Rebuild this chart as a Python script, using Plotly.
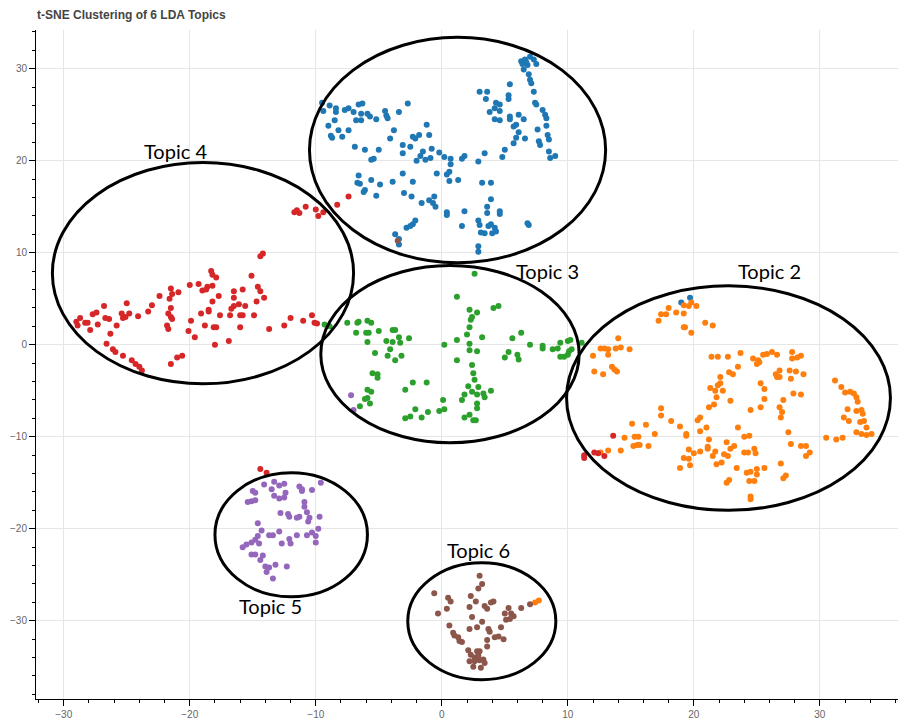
import plotly.graph_objects as go

# ---------------- data ----------------
topic1_x = [-9.5, -8.9, -9.4, -8.4, -8.4, -7.7, -7.4, -7.0, -6.6, -6.3, -6.4, -5.9, -5.7, -5.2, -4.5, -4.4, -4.3, -3.4, -2.7,
            -8.5, -9.0, -8.2, -7.4, -8.8, -8.7, -7.9, -6.8, -6.4, -6.9, -6.1, -5.0, -5.6, -5.4, -4.1, -3.8, -3.1, -3.1, -2.5,
            -2.3, -2.1, -1.8, -1.2, -1.0, -2.0, -1.7, -1.5, -1.3, -0.8, -0.9, -0.2, 0.2, 0.7, 0.7, 1.6, 1.8, 2.9, 3.4, 4.8, 5.0,
            -6.6, -6.7, -6.5, -5.6, -4.9, -6.1, -6.2, -5.2, -3.9, -3.1, -2.3, -3.0, -2.4, -1.6, -1.0, -0.6, -0.7, -0.5, -0.4,
            0.4, 0.6, 0.6, 1.3, 0.4, 0.4, 1.8, 3.2, 3.9, 3.9, 3.6, 3.6, 4.6, 4.6, 2.9, 3.0, 3.1, 3.4, 3.7, 3.9, 4.2, 4.0, 4.3,
            1.6, -2.1, -2.3, -2.8, -2.5, -3.7, -3.4, -3.4, 2.9, 2.9, 6.8, 6.9,
            3.0, 3.6, 3.5, 4.3, 4.6, 4.2, 4.6, 3.8, 4.2, 4.6, 5.4, 5.3, 5.3, 5.4, 5.4, 6.1, 6.5, 5.9, 5.7, 6.1, 5.9, 5.7, 6.6,
            6.3, 6.6, 7.0, 7.3, 7.5, 6.8, 6.5, 6.9, 7.0, 7.1, 7.3, 7.4, 7.5, 8.0, 8.2, 8.3, 8.3, 7.6, 8.4, 8.5, 7.7, 7.8, 8.5,
            8.6, 9.0, 6.7, 6.4,
            19.0, 19.7]
topic1_y = [26.3, 26.0, 25.4, 25.7, 25.3, 25.5, 25.7, 25.3, 26.1, 26.2, 25.1, 25.1, 24.8, 24.5, 25.4, 24.9, 24.6, 25.3, 26.2,
            24.4, 23.8, 23.3, 23.3, 22.7, 22.5, 22.6, 24.4, 24.4, 21.5, 21.2, 21.2, 20.1, 20.2, 22.4, 23.3, 21.7, 20.8, 21.5,
            22.6, 22.4, 22.8, 23.9, 22.8, 20.0, 20.5, 21.0, 20.1, 21.3, 20.3, 20.9, 20.4, 20.2, 19.6, 20.2, 20.5, 19.9, 20.8, 20.4, 21.2,
            18.4, 17.6, 17.5, 17.9, 17.4, 16.8, 16.6, 16.2, 17.7, 18.6, 17.7, 16.5, 16.1, 15.4, 15.7, 16.1, 15.4, 15.0, 18.6,
            18.5, 18.8, 17.8, 17.9, 14.4, 14.1, 14.5, 17.6, 17.6, 15.8, 15.0, 14.3, 14.5, 14.2, 13.5, 13.0, 12.2, 12.1, 12.9, 13.1, 12.7, 12.1, 12.3,
            12.9, 13.5, 13.1, 12.7, 12.9, 12.0, 11.5, 10.9, 10.7, 10.1, 13.2, 13.0,
            27.5, 27.5, 26.7, 26.3, 26.1, 25.7, 25.4, 25.3, 24.5, 24.4, 28.3, 27.1, 26.7, 24.8, 24.5, 25.0, 24.5, 23.9, 23.7, 23.1, 22.5, 21.9, 22.4,
            30.8, 31.0, 31.3, 31.0, 30.5, 30.4, 29.9, 29.4, 28.8, 28.4, 27.5, 26.3, 26.1, 25.5, 25.0, 24.6, 23.8, 23.4, 22.8, 22.3, 22.1, 21.7, 21.0,
            20.3, 20.5, 30.7, 30.5,
            4.6, 5.1]

topic2_x = [18.0, 17.4, 17.8, 17.2, 18.6, 19.2, 19.2, 19.6, 19.8, 20.2, 19.2, 19.3, 19.8, 20.9, 21.5,
            14.0, 13.8, 14.2, 13.2, 12.6, 12.9, 13.2, 12.0, 14.9, 13.5, 13.7, 13.9, 12.1, 12.8,
            21.4, 21.9, 22.7, 23.7, 23.5, 22.8, 23.1, 22.1, 22.1, 21.9, 21.3, 22.3, 21.7, 21.8, 22.9, 21.6, 21.2,
            24.7, 25.1, 25.2, 25.0, 25.5, 25.8, 26.2, 26.6, 27.8, 27.8, 28.2, 28.5, 26.5, 26.8, 26.6, 26.8, 27.6, 28.1, 28.7, 27.7,
            25.3, 25.6, 25.6, 27.1, 26.8, 27.0, 26.9, 27.9, 28.5, 25.3, 24.5,
            31.2, 31.7, 32.0, 32.4, 32.7, 32.9, 33.0, 32.2, 32.9, 33.3, 33.4, 31.9, 32.3, 33.5, 33.2, 33.7, 32.9, 33.3, 33.7, 34.1,
            30.5, 31.3, 31.8,
            27.5, 27.7, 28.5, 28.9, 29.2, 28.9,
            17.4, 17.4, 18.2, 18.9, 19.4, 19.4, 20.5, 20.3, 21.0, 20.5, 21.2, 23.5, 24.0, 24.4, 22.6, 23.2, 22.9, 21.1, 21.1, 21.7,
            21.5, 22.4, 22.7, 24.0, 24.3, 24.8, 24.9, 19.6, 20.0, 20.5, 19.2, 19.6, 19.7, 18.9, 21.8, 22.2, 23.4, 24.2, 24.5, 25.0,
            25.6, 25.0, 24.4, 24.8, 22.8, 22.6, 24.5, 24.5, 26.9, 27.3, 27.1,
            15.1, 16.2, 16.9, 15.3, 15.6, 14.5, 15.2, 15.5, 15.7, 16.4, 14.2, 13.2, 12.6,
            7.4, 7.7]
topic2_y = [4.0, 3.3, 3.3, 2.6, 3.5, 3.4, 4.3, 4.2, 4.6, 4.2, 1.9, 1.9, 1.3, 2.4, 2.1,
            0.7, -0.4, -0.3, -0.5, -0.4, -0.4, -1.1, -1.2, -0.5, -2.4, -2.7, -2.9, -2.9, -3.2,
            -1.3, -1.3, -1.3, -0.9, -2.4, -3.0, -3.2, -3.5, -4.2, -4.4, -4.7, -5.0, -5.0, -5.7, -6.1, -6.5, -6.8,
            -1.5, -1.7, -1.9, -2.1, -1.1, -1.0, -0.8, -1.1, -0.8, -1.5, -1.4, -1.2, -3.2, -2.8, -3.5, -3.5, -2.8, -2.9, -3.2, -3.7,
            -4.2, -4.8, -5.9, -6.0, -6.8, -7.3, -7.9, -5.3, -5.4, -6.8, -7.1,
            -3.9, -4.6, -5.2, -5.1, -5.3, -5.7, -6.2, -7.0, -7.2, -7.1, -7.5, -7.9, -8.3, -8.3, -8.4, -9.0, -9.5, -9.7, -9.8, -9.7,
            -10.1, -10.3, -10.1,
            -9.5, -10.8, -11.0, -11.0, -11.7, -12.1,
            -6.9, -7.7, -8.3, -8.9, -9.7, -9.9, -7.9, -8.2, -9.0, -9.4, -10.3, -9.0, -10.0, -9.9, -10.6, -11.0, -11.3, -11.1, -11.3, -11.6,
            -12.1, -11.9, -12.1, -11.7, -11.7, -11.3, -11.8, -11.4, -11.8, -11.6, -12.3, -12.4, -13.1, -13.4, -13.0, -12.8, -13.4, -13.9, -13.8, -13.5,
            -13.4, -14.1, -14.8, -14.8, -14.7, -15.0, -16.5, -16.8, -12.9, -14.2, -14.5,
            -8.6, -8.7, -9.7, -10.0, -10.0, -10.1, -11.0, -10.9, -10.9, -11.0, -11.5, -11.5, -11.7,
            -28.0, -27.8]

topic3_x = [2.6, 1.2, 2.2, 2.8, 2.4, 2.3, 4.1, 4.5, 2.2, 2.0, 1.2, 3.2, 2.2, 2.2, 2.8, 0.2, 1.2, 2.4, 2.5, 2.6, 2.1, 2.9,
            2.4, 1.8, 2.8, 3.3, 3.9, 3.4, 2.8, 1.6, 2.8, 2.2, 1.8, 2.5, 2.7, 0.1, 0.2, -0.2, -1.1, -1.6, -2.1, -2.5, -2.9,
            -2.9, -2.3, -1.2,
            -7.5, -6.7, -6.6, -5.9, -5.6, -6.8, -6.0, -5.8, -5.0, -3.9, -3.7, -3.4, -2.6, -4.4, -3.9, -3.3, -5.9, -4.1, -5.3,
            -4.3, -3.2, -3.7, -5.5, -5.1, -5.1, -5.9, -5.6, -5.9, -6.1, -5.7, -6.5,
            5.6, 6.3, 7.0, 8.0, 8.0, 8.8, 9.2, 9.4, 10.0, 10.2, 11.1, 5.3, 5.0, 6.0, 6.1, 9.4, 9.7, 10.0, 10.1, 10.3,
            -9.3, -8.9]
topic3_y = [7.7, 5.2, 3.8, 3.5, 3.0, 2.7, 4.0, 4.2, 1.9, 1.1, 0.5, 0.8, 0.1, -0.6, -0.7, 0.0, -1.7, -2.2, -3.1, -3.8, -4.5, -4.6,
            -5.1, -5.4, -5.4, -5.3, -5.0, -5.7, -6.4, -6.0, -6.9, -7.6, -7.9, -8.2, -8.2, -6.0, -7.0, -7.2, -7.3, -7.9, -7.0, -7.8, -8.0,
            -4.9, -4.1, -4.1,
            2.4, 2.4, 2.5, 2.6, 2.4, 1.3, 1.3, 1.3, 1.5, 1.6, 1.6, 0.8, 0.7, 0.4, 0.3, 0.2, 0.3, -0.5, -0.9,
            -1.2, -1.2, -1.7, -3.1, -3.2, -3.6, -4.9, -5.1, -5.8, -5.9, -6.4, -6.7,
            0.7, 1.3, 0.0, -0.1, -0.4, -0.5, -0.4, 0.2, 0.4, 0.5, 0.2, -0.8, -1.4, -1.1, -1.6, -1.3, -1.3, -1.1, -0.7, -0.5,
            2.2, 2.0]

topic4_x = [-11.7, -11.5, -11.3, -10.8, -10.0, -9.8, -9.4, -8.3, -7.4,
            -14.4, -14.2, -18.3, -18.2, -17.9, -15.1, -14.6, -14.4, -14.1, -14.7,
            -21.5, -21.4, -20.9, -20.0, -19.3, -19.0, -18.7, -18.6, -18.2, -17.7, -18.2, -16.5, -15.8, -16.5, -16.1, -16.5,
            -16.7, -15.6, -16.8, -16.0, -15.8, -14.9,
            -22.4, -21.6, -23.0, -21.5, -21.7, -21.5, -21.4, -23.3, -24.1, -25.0, -25.4, -24.8, -25.1, -25.3, -26.8, -27.4,
            -27.7, -26.7, -26.4, -25.8, -27.3, -27.9, -26.3, -28.7, -29.0, -28.9, -28.3, -28.1,
            -19.1, -18.5, -18.5, -17.6, -19.9, -18.8, -18.1, -17.9, -16.0, -21.8, -21.7, -20.1, -19.6, -18.0, -16.9, -13.7,
            -12.5, -12.0, -11.0, -10.3, -10.1,
            -26.6, -26.1, -25.9, -25.3, -24.6, -24.3, -24.0, -23.8, -21.5, -21.0, -20.6,
            -9.9,
            13.6, 11.3, 11.3, 12.1, 12.4, 12.9,
            -14.4, -13.9]
topic4_y = [14.4, 14.6, 14.3, 15.0, 14.7, 14.0, 14.4, 15.2, 16.1,
            9.6, 9.9, 8.0, 7.6, 7.3, 7.5, 6.3, 5.8, 5.1, 4.7,
            6.1, 5.5, 5.7, 6.5, 6.6, 5.9, 6.0, 6.3, 6.4, 5.3, 4.7, 5.8, 6.0, 5.1, 4.4, 4.2,
            3.9, 4.2, 3.2, 3.2, 3.2, 3.2,
            5.3, 5.0, 4.3, 4.0, 3.4, 3.0, 2.8, 3.6, 3.1, 4.5, 3.4, 3.4, 3.0, 2.9, 4.2, 3.5,
            3.3, 2.9, 2.8, 2.1, 2.2, 1.6, 1.2, 2.9, 2.5, 2.1, 2.4, 2.4,
            3.4, 3.8, 3.6, 3.2, 2.6, 2.1, 1.9, 1.9, 1.9, 2.1, 1.7, 1.5, 0.8, 0.0, 0.4, 1.7,
            2.1, 2.9, 2.6, 3.2, 2.4,
            0.1, -0.5, -0.8, -1.2, -1.7, -2.1, -2.4, -2.8, -2.1, -1.4, -1.2,
            2.3,
            -9.9, -12.0, -12.3, -11.7, -11.8, -12.1,
            -13.5, -13.9]

topic5_x = [-14.1, -13.5, -13.3, -12.9, -12.5, -15.0, -14.8, -13.3, -12.9, -12.5, -12.4, -15.4, -15.1, -14.8, -11.3,
            -11.1, -11.1, -10.3, -9.6, -10.9, -10.9, -10.7, -10.5, -10.6, -9.7, -12.8, -12.2, -12.1, -11.5, -11.3, -14.6,
            -14.3, -14.6, -14.8, -15.1, -15.5, -15.8, -14.5, -13.7, -13.4, -12.9, -12.7, -12.1, -12.0, -11.5, -10.7, -10.3,
            -10.0, -10.0, -9.8, -15.1, -14.8, -14.2, -14.4, -14.0, -13.7, -13.9, -13.2, -12.3, -13.4,
            -7.2, -7.0]
topic5_y = [-15.2, -15.7, -14.9, -15.3, -15.1, -15.9, -16.1, -16.4, -16.7, -16.6, -16.1, -17.1, -17.0, -16.9, -15.4,
            -15.7, -15.9, -15.8, -15.0, -17.1, -17.6, -18.2, -18.8, -19.2, -18.7, -18.3, -18.4, -18.7, -18.8, -18.7, -19.4,
            -20.2, -20.8, -21.2, -21.5, -21.7, -22.0, -21.6, -20.7, -20.7, -20.3, -21.6, -21.1, -21.6, -20.7, -20.7, -20.4,
            -20.8, -21.5, -20.0, -22.8, -22.8, -22.9, -23.4, -24.1, -24.2, -24.7, -23.9, -24.1, -25.4,
            -5.5, -7.1]

topic6_x = [3.0, 3.2, 2.9, -0.6, 0.5, 0.7, 2.3, 2.7, 2.2, 3.4, 3.6, 3.9, 4.1, 0.4, -0.3, 2.4, 3.2, 2.8, 2.2, 0.6, 0.9,
            1.0, 1.3, 1.4, 1.6, 3.7, 3.8, 3.6, 4.2, 4.5, 4.7, 4.9, 5.0, 5.5, 5.1, 5.4, 5.7, 5.3, 6.3, 7.0, 3.6, 2.8, 3.0,
            2.3, 2.6, 2.9, 3.3, 3.4, 3.0, 2.6, 2.2, 2.5, 3.1, 2.1,
            -3.5]
topic6_y = [-25.1, -26.0, -26.5, -27.0, -27.5, -27.9, -27.3, -27.9, -28.5, -28.4, -28.7, -28.0, -27.9, -28.7, -29.2, -29.6,
            -30.1, -30.7, -30.9, -30.5, -31.3, -31.6, -31.8, -32.2, -32.3, -30.9, -31.2, -32.1, -31.8, -31.7, -30.7, -32.0,
            -29.2, -29.2, -29.9, -29.8, -29.5, -28.6, -28.6, -28.2, -32.8, -33.3, -33.3, -33.7, -34.0, -33.8, -34.2, -34.6,
            -34.3, -34.4, -34.4, -35.0, -35.1, -33.2,
            11.3]

topic_colors = ["#1f77b4", "#ff7f0e", "#2ca02c", "#d62728", "#9467bd", "#8c564b"]
topic_names = ["Topic 1", "Topic 2", "Topic 3", "Topic 4", "Topic 5", "Topic 6"]

# hand-drawn ellipses around clusters: (x0, y0, x1, y1) in data units
ellipse_x0 = [-10.5, 9.9, -9.6, -30.9, -18.0, -2.7]
ellipse_x1 = [13.0, 35.6, 10.9, -7.0, -5.9, 9.05]
ellipse_y0 = [8.9, -18.0, -10.65, -4.25, -27.4, -36.4]
ellipse_y1 = [33.4, 6.4, 8.6, 19.8, -13.9, -23.7]

# label positions (centres) in data units
label_x = [3.0, 26.0, 8.4, -21.1, -13.6, 2.9]
label_y = [34.6, 8.0, 8.0, 21.0, -28.4, -22.3]

xs = [topic1_x, topic2_x, topic3_x, topic4_x, topic5_x, topic6_x]
ys = [topic1_y, topic2_y, topic3_y, topic4_y, topic5_y, topic6_y]

fig = go.Figure()
for i in range(6):
    fig.add_trace(go.Scatter(
        x=xs[i], y=ys[i], mode="markers", name=topic_names[i],
        marker=dict(color=topic_colors[i], size=6, line=dict(width=0)),
        showlegend=False, hoverinfo="skip"))

for i in range(6):
    fig.add_shape(type="circle", xref="x", yref="y",
                  x0=ellipse_x0[i], x1=ellipse_x1[i], y0=ellipse_y0[i], y1=ellipse_y1[i],
                  line=dict(color="black", width=3), layer="above")
    fig.add_annotation(x=label_x[i], y=label_y[i], xref="x", yref="y", text=topic_names[i],
                       showarrow=False, font=dict(family="Lato", size=20, color="black"),
                       xanchor="center", yanchor="middle")

axis_common = dict(
    showgrid=True, gridcolor="#e6e6e6", gridwidth=1, zeroline=False,
    showline=True, linecolor="black", linewidth=1,
    ticks="outside", ticklen=6, tickcolor="black", tickwidth=1,
    dtick=10, tick0=0,
    minor=dict(ticks="outside", ticklen=3, dtick=2, tick0=0, tickcolor="black", showgrid=False),
    tickfont=dict(family="Liberation Sans", size=10, color="#666666"),
    mirror=False, automargin=False,
)

fig.update_layout(
    width=901, height=724,
    margin=dict(l=36, r=3, t=30, b=25, autoexpand=False),
    paper_bgcolor="white", plot_bgcolor="white",
    title=dict(text="t-SNE Clustering of 6 LDA Topics", x=37 / 901, xanchor="left", xref="container",
               y=1 - 15 / 724, yanchor="middle", yref="container",
               font=dict(family="Liberation Sans", size=12, color="#444444", weight="bold")),
    xaxis=dict(range=[-32.2, 36.2], **axis_common),
    yaxis=dict(range=[-38.5, 34.2], **axis_common),
)

fig.write_html("out.html",
               config={"displayModeBar": False},
               post_script="document.body.style.margin='0';document.body.style.overflow='hidden';")
